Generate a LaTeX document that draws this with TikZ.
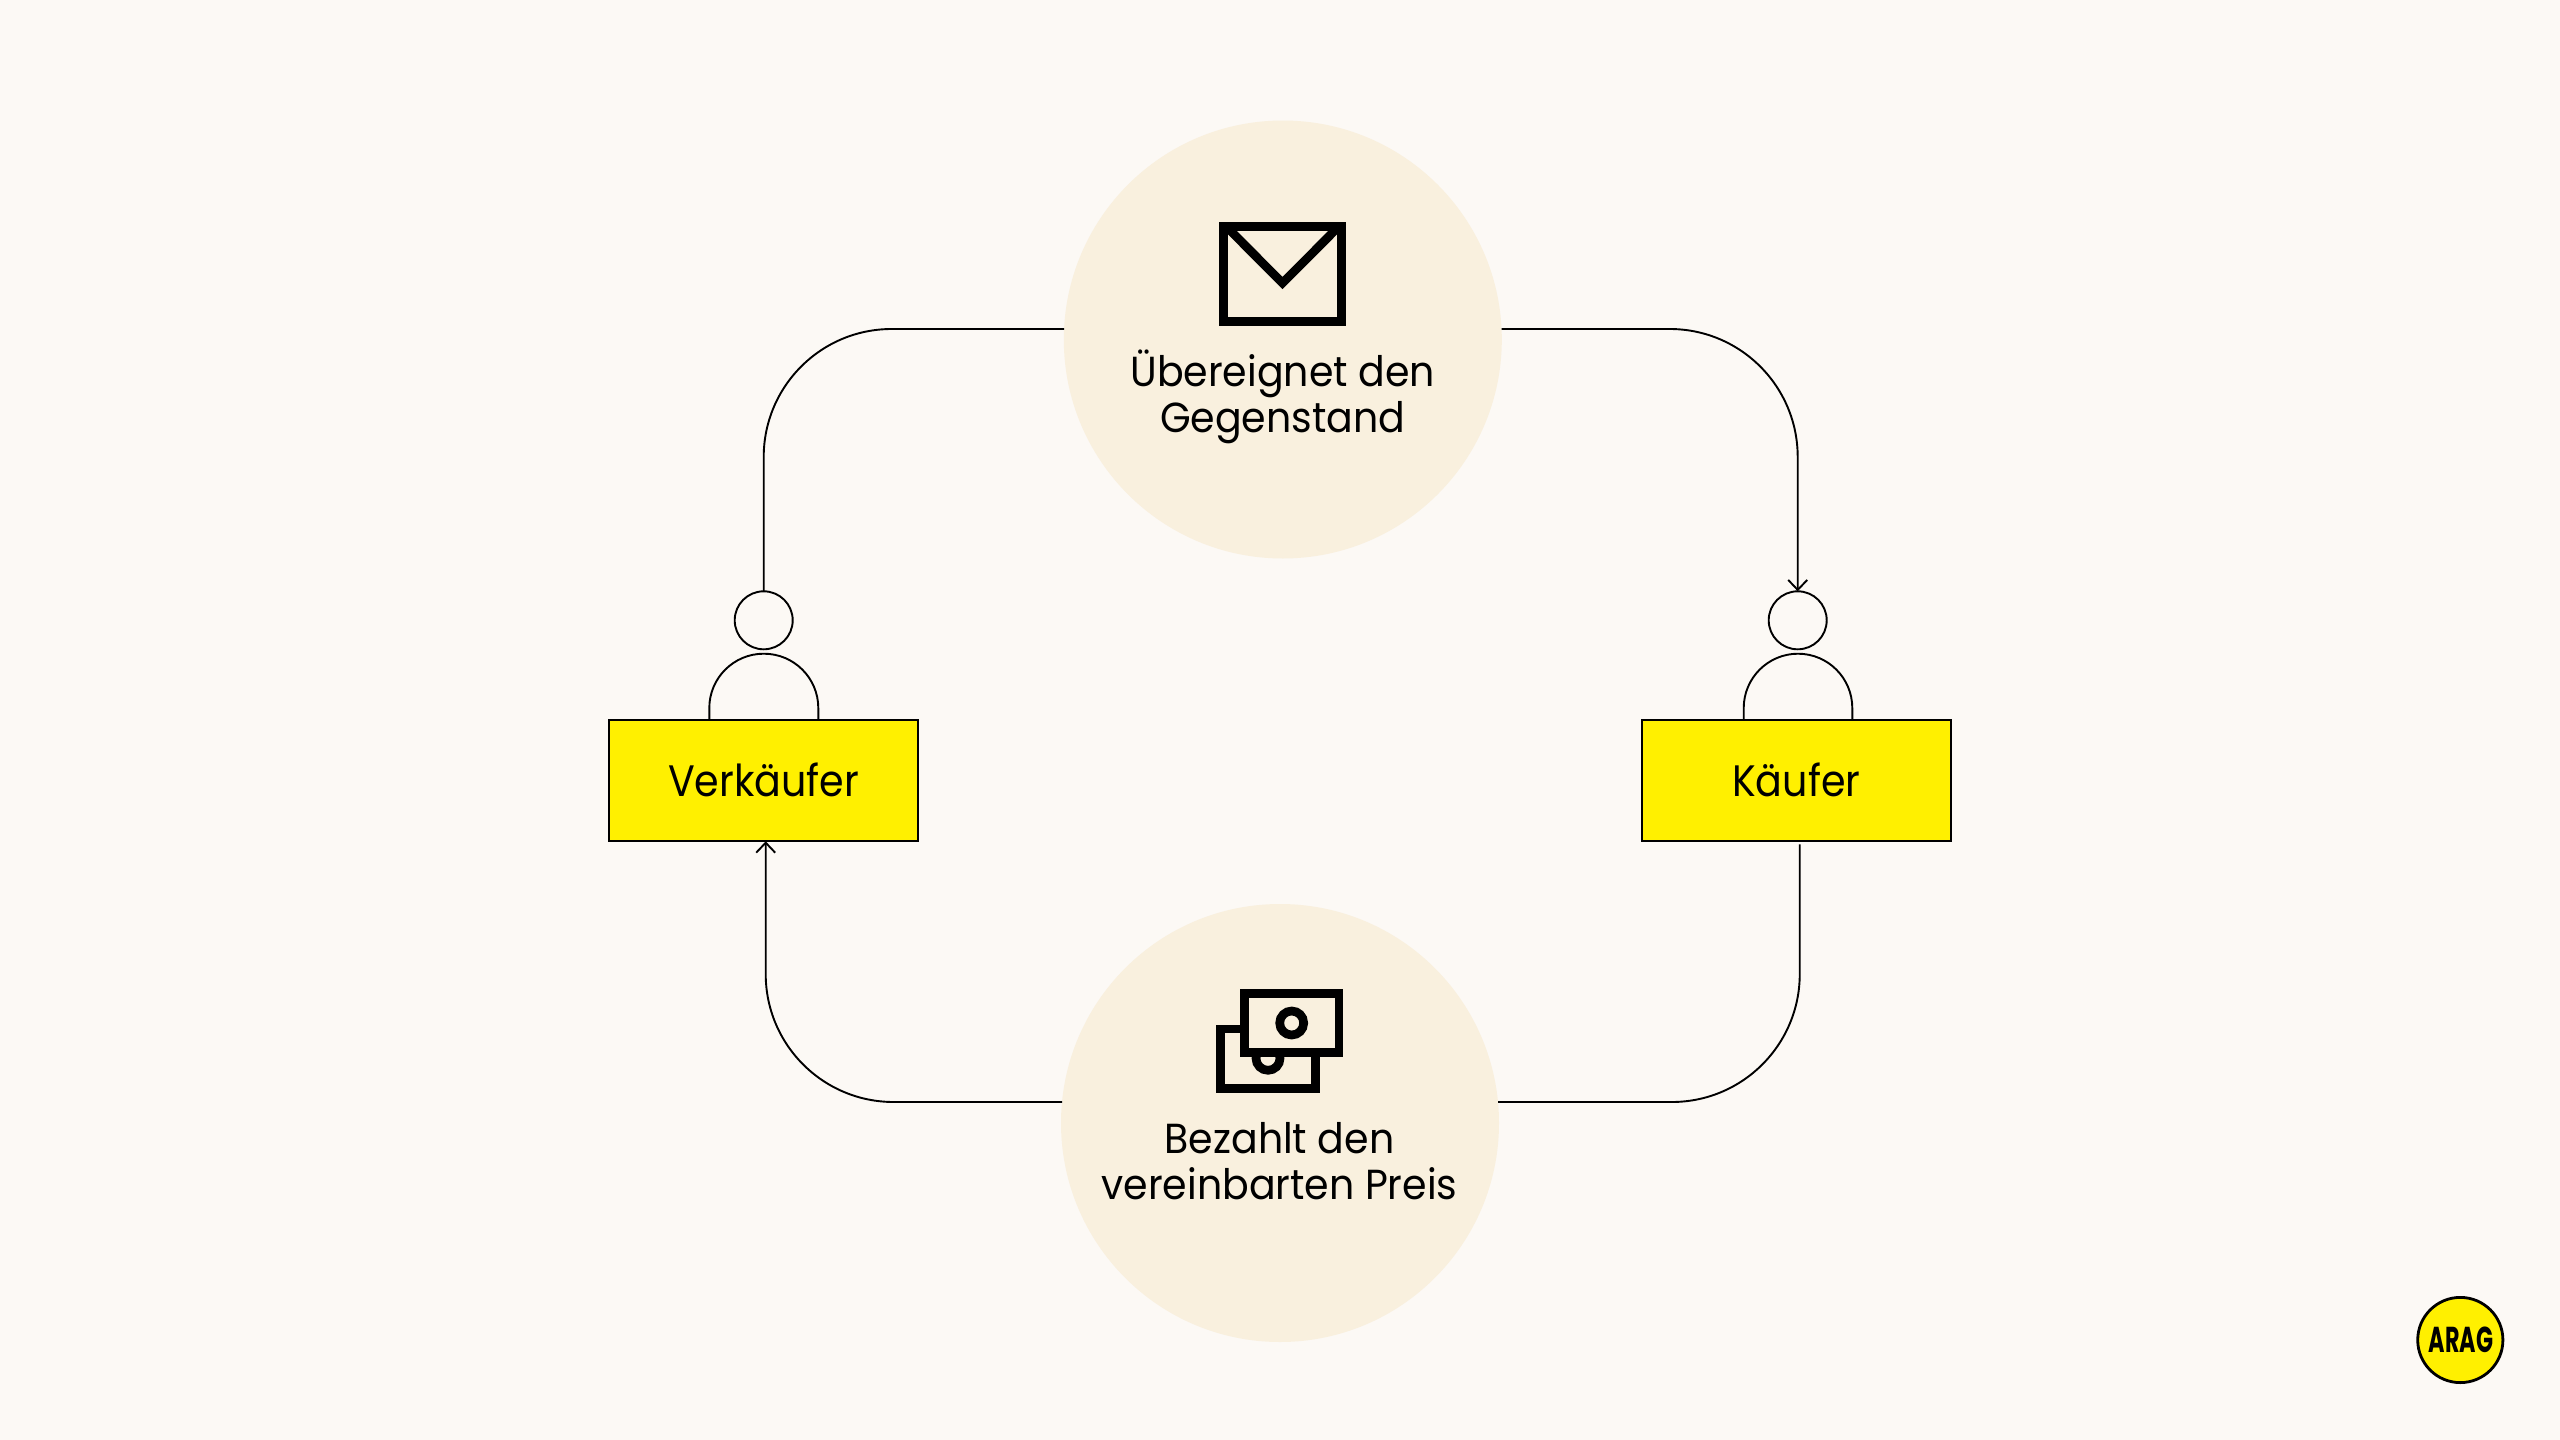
\documentclass[tikz,border=0pt]{standalone}
\usepackage{fontspec}
\setmainfont[FakeStretch=0.94]{Poppins}
\newfontfamily\partyfont[FakeStretch=0.90]{Poppins}
\newfontfamily\logofont[FakeStretch=0.62]{Poppins}
\usetikzlibrary{arrows.meta}
\definecolor{pagebg}{HTML}{FCF9F5}
\definecolor{sand}{HTML}{F9F0DE}
\definecolor{aragyellow}{HTML}{FFF000}
\tikzset{
  conn/.style={draw=black,line width=0.95pt,rounded corners=64pt},
  tip/.style={-{Straight Barb[length=5pt,width=9.5pt,line width=0.95pt]}},
  topic/.style={circle,fill=sand,minimum size=219pt,inner sep=0pt,outer sep=0pt},
  party/.style={rectangle,draw=black,line width=0.95pt,fill=aragyellow,minimum width=154.8pt,minimum height=60.5pt,inner sep=0pt,outer sep=0pt,text height=16pt,text depth=0.8pt,font=\partyfont\fontsize{22}{24}\selectfont},
  head/.style={circle,draw=black,line width=0.95pt,minimum size=29pt,inner sep=0pt,outer sep=0pt},
  body/.style={draw=black,line width=0.95pt,rounded corners=27.2pt},
  icon/.style={draw=black,line width=4.35pt},
  caption/.style={align=center,inner sep=0pt,font=\fontsize{21}{23.35}\selectfont}
}
\begin{document}
\begin{tikzpicture}[x=0.5pt,y=-0.5pt]
\fill[pagebg] (0,0) rectangle (2560,1440);
\useasboundingbox (0,0) rectangle (2560,1440);
% circles
\node[topic] (top) at (1282.8,339.5) {};
\node[topic] (bot) at (1280,1123) {};
% party boxes
\node[party] (seller) at (763.5,780.8) {Verkäufer};
\node[party] (buyer) at (1796.35,780.8) {Käufer};
% persons
\node[head] (hl) at (763.7,620.3) {};
\node[head] (hr) at (1797.7,620.3) {};
\draw[body] (709.3,720.3) -- (709.3,653.7) -- (818.3,653.7) -- (818.3,720.3);
\draw[body] (1743.7,720.3) -- (1743.7,653.7) -- (1852.3,653.7) -- (1852.3,720.3);
% connectors
\draw[conn] ([xshift=0.1pt,yshift=5.25pt]top.west) -| (hl.north);
\draw[conn,tip] ([xshift=-0.1pt,yshift=5.25pt]top.east) -| (hr.north);
\draw[conn] ([xshift=1.7pt,yshift=-1.5pt]buyer.south) |- ([xshift=-0.5pt,yshift=10.5pt]bot.east);
\draw[conn,tip] ([xshift=0.5pt,yshift=10.5pt]bot.west) -| ([xshift=1.1pt]seller.south);
% envelope
\draw[icon] (1223.4,226.3) rectangle (1341.7,321.4);
\begin{scope}
\clip (1223.4,226.3) rectangle (1341.7,321.4);
\draw[icon] (1226,226.3) -- (1282.5,283) -- (1339,226.3);
\end{scope}
% banknotes
\draw[icon] (1244.3,1029) -- (1220.3,1029) -- (1220.3,1088.4) -- (1315.3,1088.4) -- (1315.3,1052.7);
\begin{scope}
\clip (1200,1057) rectangle (1330,1100);
\draw[icon] (1268,1058.3) circle[radius=12];
\end{scope}
\draw[icon] (1244.3,993.7) rectangle (1339,1052.7);
\draw[icon] (1291.7,1023) circle[radius=12];
% captions
\node[caption] (cap1) at (1282.7,397) {Übereignet den\\Gegenstand};
\node[caption] (cap2) at (1279.5,1161) {Bezahlt den\\vereinbarten Preis};
% logo
\node[circle,draw=black,line width=1.4pt,fill=aragyellow,minimum size=42.6pt,inner sep=0pt] (logo) at (2460.3,1340) {};
\node[inner sep=0pt,font=\logofont\bfseries\fontsize{18}{20}\selectfont] (logotext) at (2460.8,1340) {ARAG};
\end{tikzpicture}
\end{document}
